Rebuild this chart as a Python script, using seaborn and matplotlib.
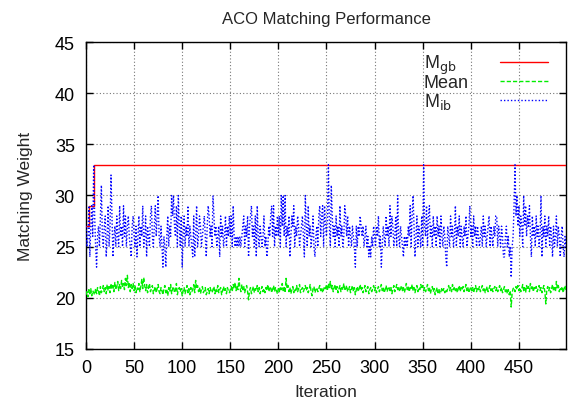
import numpy as np
import pandas as pd
import matplotlib
matplotlib.use("Agg")
import matplotlib.pyplot as plt
import seaborn as sns

# --- data ---
iterations = list(range(500))

# best-so-far (global best) only changes at a few iterations
mgb_iters = [0, 3, 8, 499]
mgb_vals = [27, 29, 33, 33]

# mean matching weight per iteration
mean_vals = [
    20.3, 20.6, 20.1, 20.8, 20.4, 20.9, 20.2, 20.7, 20.5, 20.3, 20.9, 20.4, 21.0, 20.6, 20.2, 21.1, 20.5, 20.8, 21.2, 20.6, 21.0, 20.4, 21.3, 20.7, 21.1,
    20.5, 21.4, 20.9, 21.2, 20.6, 21.5, 20.8, 21.1, 21.6, 20.7, 21.3, 20.9, 21.7, 21.0, 21.4, 20.8, 21.9, 21.2, 22.2, 21.0, 21.5, 20.6, 21.3, 20.9, 21.4,
    20.7, 21.2, 20.5, 21.0, 20.8, 21.4, 20.6, 21.1, 21.8, 20.9, 22.0, 21.2, 20.7, 21.3, 20.5, 21.0, 21.4, 20.6, 20.9, 21.2, 20.4, 20.8, 21.1, 20.5, 20.9,
    21.3, 20.6, 20.4, 21.0, 20.7, 20.3, 20.9, 21.2, 20.5, 20.8, 20.2, 21.0, 20.6, 21.3, 20.4, 20.9, 21.1, 20.5, 20.7, 21.4, 20.3, 20.8, 21.0, 20.6, 20.9,
    20.2, 20.7, 21.0, 20.4, 20.8, 21.2, 20.5, 20.9, 20.3, 21.0, 20.6, 20.8, 21.3, 20.5, 21.7, 20.9, 21.2, 20.6, 21.0, 20.4, 20.8, 21.1, 20.5, 20.7, 21.0,
    20.3, 20.6, 20.9, 20.4, 21.0, 20.7, 20.5, 20.8, 21.1, 20.4, 20.9, 20.6, 21.2, 20.5, 20.8, 21.0, 20.3, 20.7, 21.1, 20.6, 20.9, 20.4, 21.0, 20.7, 20.5,
    20.8, 21.1, 20.6, 21.3, 20.9, 21.5, 20.7, 21.2, 20.8, 21.9, 21.0, 20.6, 21.3, 20.8, 21.1, 20.5, 20.9, 21.2, 20.6, 19.8, 20.7, 21.0, 20.4, 20.8, 21.1,
    20.5, 20.9, 20.7, 21.2, 20.6, 21.0, 20.4, 20.8, 21.1, 20.6, 20.9, 20.5, 21.0, 20.7, 21.3, 20.6, 20.9, 21.1, 20.5, 20.8, 21.2, 20.6, 21.0, 20.7, 20.4,
    20.9, 20.6, 21.1, 20.8, 21.4, 20.7, 21.0, 20.5, 21.9, 20.9, 21.2, 20.6, 21.0, 20.4, 20.8, 21.1, 20.5, 20.9, 20.7, 21.2, 20.6, 20.9, 21.3, 20.5, 20.8,
    21.0, 20.6, 20.9, 21.2, 20.7, 21.0, 20.5, 20.8, 21.3, 20.6, 20.2, 20.9, 21.1, 20.5, 20.8, 21.0, 20.6, 20.9, 21.2, 20.7, 21.0, 20.5, 20.8, 21.1, 20.9,
    21.3, 20.7, 21.4, 21.0, 21.6, 20.8, 21.2, 20.6, 21.0, 21.3, 20.7, 21.1, 20.5, 20.9, 21.2, 20.6, 21.0, 20.8, 21.4, 20.7, 20.9, 21.2, 20.6, 20.8, 21.1,
    20.5, 20.9, 21.2, 20.6, 21.0, 20.3, 20.8, 21.1, 20.6, 20.9, 21.3, 20.7, 21.0, 20.5, 20.8, 21.2, 20.6, 20.9, 21.1, 20.4, 20.8, 21.0, 20.6, 20.9, 21.2,
    20.7, 21.0, 20.5, 20.8, 21.1, 20.6, 20.9, 21.3, 20.7, 21.0, 20.5, 20.8, 21.2, 20.6, 20.9, 21.1, 20.7, 21.0, 20.4, 20.8, 21.2, 20.6, 20.9, 21.3, 20.8,
    21.1, 20.6, 20.9, 21.2, 20.7, 21.0, 20.5, 20.9, 21.4, 20.8, 21.1, 20.6, 21.0, 20.8, 21.3, 20.7, 21.0, 20.5, 20.9, 21.2, 20.6, 21.0, 20.8, 21.3, 20.9,
    21.2, 20.7, 21.0, 20.6, 20.9, 21.3, 20.7, 21.0, 20.4, 20.8, 21.1, 20.6, 20.9, 20.3, 20.7, 21.0, 20.5, 20.8, 20.4, 20.6, 21.0, 20.7, 20.9, 20.5, 20.8,
    20.6, 20.9, 21.2, 20.7, 21.0, 20.6, 21.3, 20.8, 21.1, 20.7, 21.0, 20.5, 20.9, 21.2, 20.6, 21.0, 20.8, 21.1, 20.6, 20.9, 21.3, 20.7, 21.0, 20.5, 20.8,
    21.1, 20.7, 21.0, 20.5, 20.9, 21.2, 20.6, 21.0, 20.8, 21.1, 20.6, 20.9, 21.2, 20.7, 21.0, 20.5, 20.8, 21.1, 20.6, 20.9, 21.2, 20.7, 21.0, 20.6, 20.9,
    21.1, 20.7, 21.0, 20.6, 20.9, 21.2, 20.7, 21.0, 20.5, 20.8, 21.1, 20.6, 20.9, 20.4, 20.8, 20.3, 20.7, 19.1, 20.5, 20.9, 21.0, 20.6, 21.1, 20.8, 21.2,
    20.7, 21.0, 20.6, 20.9, 21.3, 20.7, 21.0, 20.5, 21.2, 20.8, 21.1, 20.6, 21.4, 20.9, 21.2, 20.6, 21.0, 20.8, 21.1, 20.6, 20.9, 21.2, 20.7, 21.0, 20.5,
    20.9, 21.2, 20.6, 19.4, 20.8, 21.1, 20.7, 21.0, 20.5, 20.9, 21.3, 20.7, 21.0, 20.6, 21.6, 20.9, 21.2, 20.6, 21.0, 20.8, 21.1, 20.5, 20.9, 21.2, 20.7,
]

# iteration-best matching weight
mib_vals = [
    27, 25, 26, 29, 24, 27, 29, 26, 33, 28, 25, 23, 26, 27, 25, 28, 31, 26, 25, 27, 28, 24, 26, 29, 25,
    27, 32, 28, 24, 26, 27, 25, 28, 26, 25, 29, 26, 27, 25, 29, 26, 28, 25, 27, 28, 26, 25, 24, 27, 28,
    26, 25, 27, 24, 26, 28, 25, 27, 26, 29, 25, 26, 28, 24, 27, 26, 25, 28, 29, 26, 25, 27, 29, 26, 28,
    30, 26, 25, 27, 25, 23, 26, 25, 23, 26, 28, 25, 27, 26, 30, 28, 30, 27, 26, 29, 25, 30, 27, 25, 28,
    23, 26, 28, 25, 27, 26, 29, 25, 27, 26, 25, 24, 28, 24, 26, 29, 25, 26, 28, 27, 25, 26, 27, 28, 26,
    24, 27, 29, 28, 26, 27, 25, 30, 28, 26, 27, 25, 26, 27, 24, 28, 26, 27, 25, 26, 28, 25, 27, 26, 28,
    26, 28, 25, 29, 26, 25, 26, 25, 26, 25, 26, 25, 26, 27, 28, 25, 27, 26, 28, 24, 27, 28, 29, 26, 27,
    25, 28, 24, 29, 26, 25, 27, 26, 25, 26, 28, 25, 26, 24, 25, 27, 26, 28, 29, 26, 29, 25, 27, 26, 28,
    26, 28, 25, 30, 27, 30, 26, 30, 25, 27, 26, 28, 24, 26, 28, 27, 29, 25, 27, 26, 28, 27, 25, 26, 27,
    28, 26, 24, 30, 27, 25, 29, 26, 27, 25, 26, 28, 25, 24, 26, 27, 25, 28, 29, 26, 28, 29, 25, 29, 27,
    26, 28, 33, 27, 25, 31, 28, 26, 27, 25, 28, 26, 27, 25, 29, 26, 27, 25, 26, 29, 28, 26, 28, 25, 27,
    26, 25, 27, 26, 25, 23, 27, 25, 27, 26, 28, 27, 26, 27, 25, 26, 27, 25, 26, 24, 25, 24, 26, 25, 27,
    26, 25, 27, 26, 28, 25, 26, 23, 25, 27, 26, 25, 28, 26, 27, 25, 29, 26, 28, 27, 25, 26, 28, 25, 30,
    26, 25, 27, 26, 25, 24, 26, 25, 26, 25, 27, 26, 29, 25, 28, 30, 27, 24, 26, 28, 25, 27, 26, 25, 28,
    25, 33, 27, 26, 29, 25, 28, 29, 26, 27, 25, 28, 26, 27, 25, 28, 26, 27, 25, 28, 26, 25, 27, 26, 24,
    23, 27, 26, 25, 28, 26, 27, 25, 26, 29, 25, 27, 26, 28, 25, 27, 26, 25, 27, 26, 28, 25, 26, 27, 29,
    26, 27, 25, 28, 26, 27, 25, 27, 26, 25, 26, 27, 25, 28, 26, 27, 25, 26, 27, 28, 25, 27, 26, 25, 27,
    26, 28, 28, 25, 27, 26, 25, 27, 26, 24, 24, 26, 27, 25, 26, 24, 25, 22, 25, 26, 29, 33, 28, 30, 27,
    29, 26, 28, 27, 25, 30, 27, 29, 26, 28, 27, 29, 26, 24, 28, 26, 27, 25, 28, 26, 27, 25, 26, 30, 24,
    27, 26, 28, 25, 27, 26, 28, 25, 27, 26, 24, 27, 25, 26, 28, 25, 27, 26, 24, 26, 27, 25, 24, 26, 25,
]

x_ticks = [0, 50, 100, 150, 200, 250, 300, 350, 400, 450]
y_ticks = [15, 20, 25, 30, 35, 40, 45]

df = pd.DataFrame({"Iteration": iterations, "Mean": mean_vals, "Mib": mib_vals})

sns.set_style("ticks")
plt.rcParams['font.family'] = ['Liberation Sans', 'DejaVu Sans']

fig = plt.figure(figsize=(5.68, 4.02), dpi=100)
ax = fig.add_axes([0.1514, 0.1294, 0.8451, 0.7636])

# series styles (gnuplot-like: solid red, dashed green, dotted blue)
styles = {
    "gb": ("#ff0000", "-"),
    "mean": ("#00ee00", (0, (3, 1.5))),
    "ib": ("#0000ff", (0, (1, 1.5))),
}

ax.step(mgb_iters, mgb_vals, where="post", color=styles["gb"][0], lw=1.0,
        linestyle=styles["gb"][1], zorder=3)
sns.lineplot(data=df, x="Iteration", y="Mean", ax=ax, color=styles["mean"][0],
             lw=1.0, linestyle=styles["mean"][1], zorder=4)
sns.lineplot(data=df, x="Iteration", y="Mib", ax=ax, color=styles["ib"][0],
             lw=1.0, linestyle=styles["ib"][1], zorder=5)

ax.set_xlim(0, 499)
ax.set_ylim(15, 45)
ax.set_xticks(x_ticks)
ax.set_yticks(y_ticks)
ax.grid(True, color="#777777", linestyle=(0, (1, 2)), linewidth=0.8)
ax.tick_params(direction="in", length=5, width=1, top=True, right=True,
               labelsize=13, colors="black")
ax.tick_params(axis="x", pad=7)
ax.tick_params(axis="y", pad=8)
for s in ax.spines.values():
    s.set_visible(True)
    s.set_color("black")
    s.set_linewidth(1.0)

ax.set_xlabel("Iteration", fontsize=12.5, labelpad=6)
ax.set_ylabel("Matching Weight", fontsize=12.5, labelpad=16)
ax.set_title("ACO Matching Performance", fontsize=12, pad=14)

# gnuplot-style key: left-aligned labels, sample lines to the right
key_labels = [r"M$_{\mathrm{gb}}$", "Mean", r"M$_{\mathrm{ib}}$"]
key_styles = [styles["gb"], styles["mean"], styles["ib"]]
key_y = [0.914, 0.853, 0.792]
for lab, (col, ls), yy in zip(key_labels, key_styles, key_y):
    ax.text(0.704, yy, lab, transform=ax.transAxes, fontsize=13,
            ha="left", va="baseline", zorder=6)
    ax.plot([0.8625, 0.9625], [yy + 0.02, yy + 0.02], transform=ax.transAxes,
            color=col, lw=1.0, linestyle=ls, zorder=6)

fig.savefig("out.png", dpi=100)
